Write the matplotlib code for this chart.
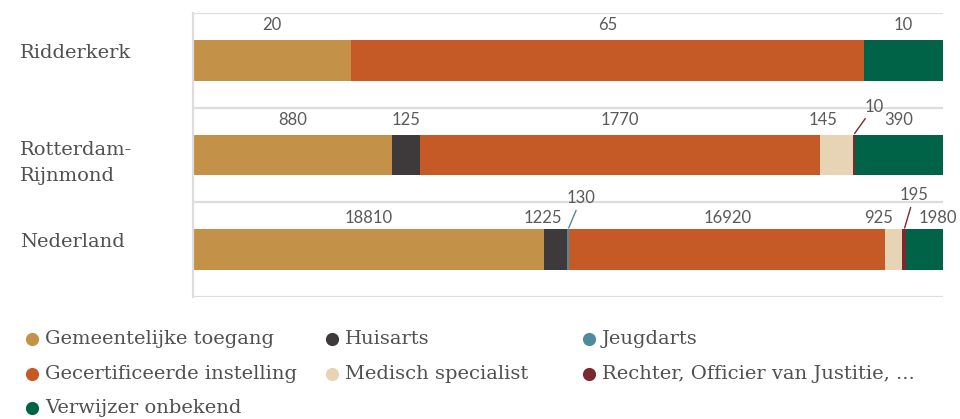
import matplotlib.pyplot as plt
from matplotlib.transforms import blended_transform_factory

# -------------------------
# Data
# -------------------------
regions = ["Ridderkerk", "Rotterdam-\nRijnmond", "Nederland"]

sources = [
    "Gemeentelijke toegang",
    "Huisarts",
    "Jeugdarts",
    "Gecertificeerde instelling",
    "Medisch specialist",
    "Rechter, Officier van Justitie, ...",
    "Verwijzer onbekend",
]

ridderkerk = [20, 0, 0, 65, 0, 0, 10]
rotterdam = [880, 125, 0, 1770, 145, 10, 390]
nederland = [18810, 1225, 130, 16920, 925, 195, 1980]

colors = ["#C49148", "#3E3A3B", "#4F8A9E", "#C65A27", "#E7D4B5", "#7A2A2E", "#006347"]

# -------------------------
# Label placement tweaks (pixels): (dx, dy, leader line)
# -------------------------
special = {
    (1, 4): (-13, 15, False),
    (1, 5): (20, 28, True),
    (2, 1): (-13, 11, False),
    (2, 2): (13, 31, True),
    (2, 4): (-15, 11, False),
    (2, 5): (10, 34, True),
    (2, 6): (13, 11, False),
}
row_dy = [15, 15, 11]

plt.rcParams["font.family"] = ["DejaVu Serif"]

fig = plt.figure(figsize=(9.6, 4.19), dpi=100)
ax = fig.add_axes([193 / 960, 1 - 297 / 419, 750 / 960, 284 / 419])

rows = [ridderkerk, rotterdam, nederland]
bar_h = 0.43
num_font = ["Lato", "DejaVu Sans"]

for i, row in enumerate(rows):
    total = sum(row)
    left = 0.0
    for j, v in enumerate(row):
        if v == 0:
            continue
        share = v / total
        ax.barh(i, share, left=left, height=bar_h, color=colors[j], linewidth=0)
        cx = left + share / 2
        dx, dy, leader = special.get((i, j), (0, row_dy[i], False))
        props = None
        if leader:
            props = dict(arrowstyle="-", color=colors[j], lw=1, shrinkA=1, shrinkB=1)
        ax.annotate(
            str(v), xy=(cx, i - bar_h / 2), xytext=(dx, dy),
            textcoords="offset pixels", ha="center", va="center",
            fontsize=12, color="#5A5A5A", family=num_font,
            arrowprops=props,
        )
        left += share

ax.set_xlim(0, 1)
ax.set_ylim(2.5, -0.5)
ax.set_xticks([])
ax.set_yticks([])

for y in [-0.5, 0.5, 1.5, 2.5]:
    ax.axhline(y, color="#DDDDDD", lw=1.6, zorder=0)

for s in ["top", "right", "bottom"]:
    ax.spines[s].set_visible(False)
ax.spines["left"].set_color("#DDDDDD")
ax.spines["left"].set_linewidth(1.6)

# category labels
trans = blended_transform_factory(fig.transFigure, ax.transData)
for i, name in enumerate(regions):
    off = 0.085 if "\n" in name else -0.08
    ax.text(20 / 960, i + off, name, transform=trans, ha="left", va="center",
            fontsize=14, color="#505050", linespacing=1.55)

# -------------------------
# Legend (row-wise, 3 columns)
# -------------------------
leg = fig.add_axes([0, 0, 1, 1], facecolor="none")
leg.set_xlim(0, 960)
leg.set_ylim(419, 0)
leg.axis("off")

col_x = [32, 332, 589]
row_y = [339, 374, 408]
for k, name in enumerate(sources):
    r, c = divmod(k, 3)
    leg.scatter(col_x[c], row_y[r], s=90, color=colors[k], linewidths=0)
    leg.text(col_x[c] + 13, row_y[r], name, ha="left", va="center",
             fontsize=14, color="#505050")

fig.savefig("out.png", dpi=100)
